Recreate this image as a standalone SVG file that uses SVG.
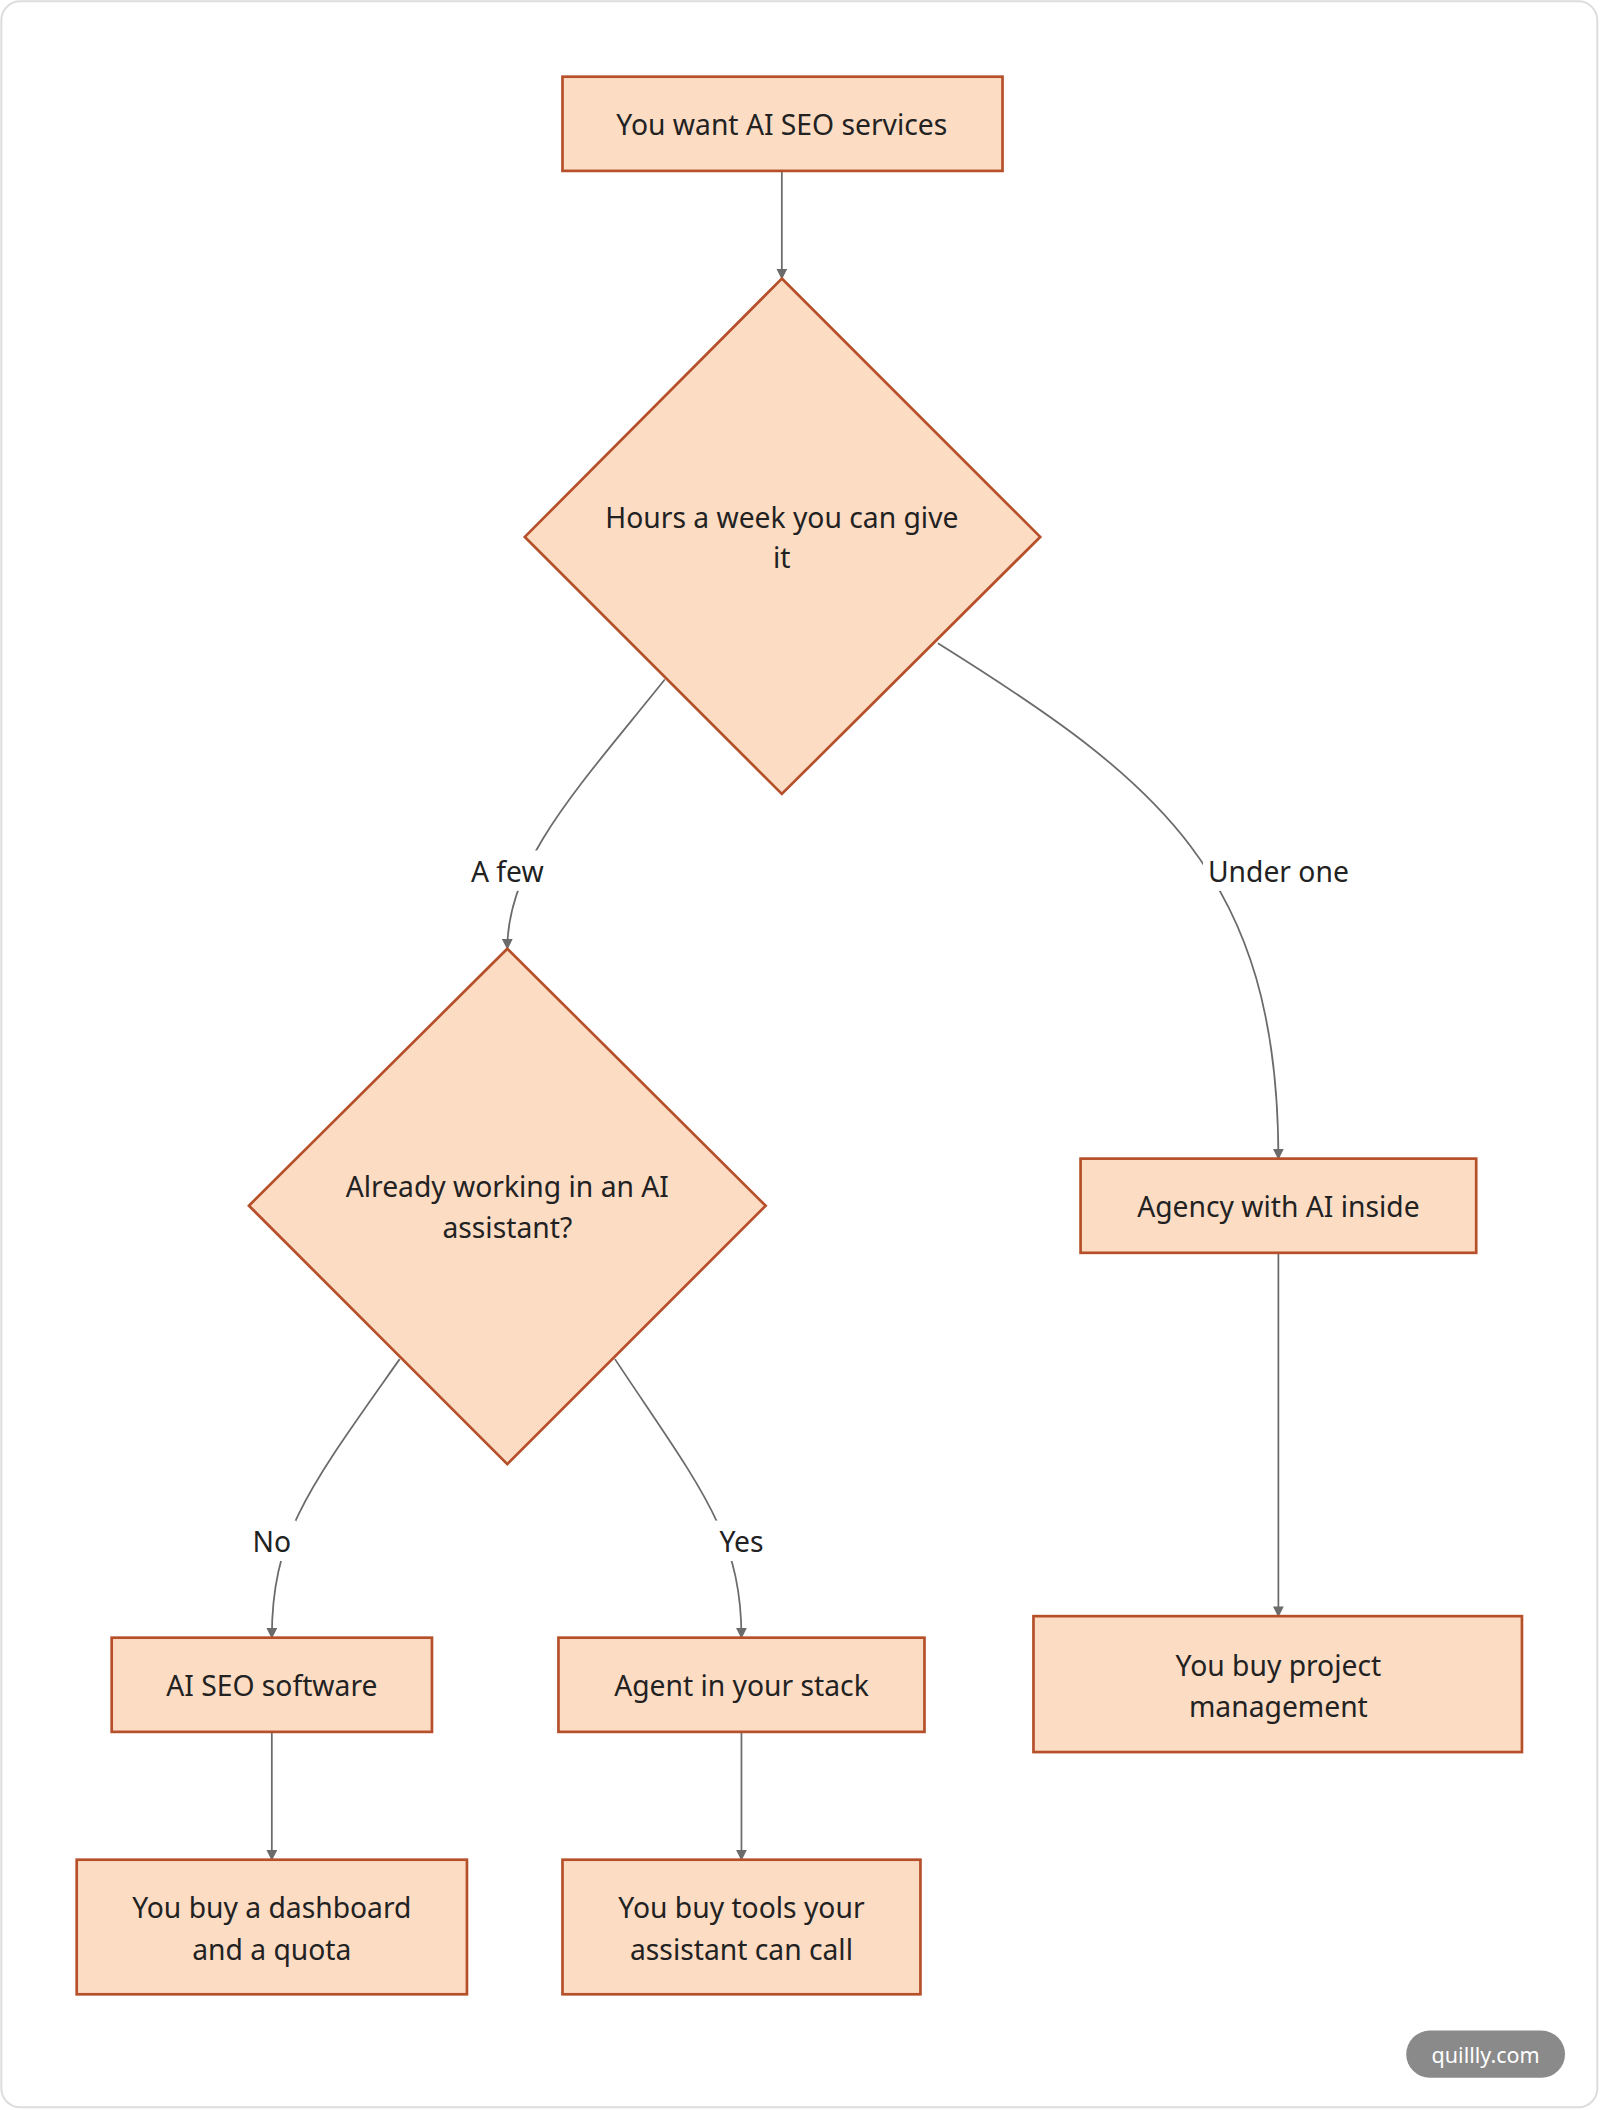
<svg xmlns="http://www.w3.org/2000/svg" width="1600" height="2110" viewBox="0 0 1600 2110">
<defs>
<marker id="ah" viewBox="0 0 10 10" refX="9" refY="5" markerWidth="8" markerHeight="8" orient="auto" markerUnits="userSpaceOnUse"><path d="M0,0 L10,5 L0,10 z" fill="#6b6b6b"/></marker>
<style>
.n{fill:#FDDCC4;stroke:#B5502A;stroke-width:2}
.t{font-family:"Noto Sans","Open Sans",sans-serif;font-size:21px;fill:#222;text-anchor:middle;dominant-baseline:central}
.e{fill:none;stroke:#6b6b6b;stroke-width:1.3;marker-end:url(#ah)}
.lb{fill:#fff}
</style>
</defs>
<rect width="1600" height="2110" fill="#fff"/>
<g transform="scale(1.34567)">
<rect x="1" y="1" width="1186" height="1565" rx="14" fill="#fff" stroke="#ddd" stroke-width="1.5"/>
<g id="connectors">
<path class="e" d="M581,127 L581,207"/>
<path class="e" d="M494,505 C430,585 377,640 377,705"/>
<path class="e" d="M697,478 C860,580 950,650 950,861"/>
<path class="e" d="M950,931 L950,1201"/>
<path class="e" d="M297,1010 C230,1105 202,1140 202,1217"/>
<path class="e" d="M457,1010 C520,1105 551,1140 551,1217"/>
<path class="e" d="M202,1287 L202,1382"/>
<path class="e" d="M551,1287 L551,1382"/>
<rect class="lb" x="345" y="632" width="64" height="30"/><text class="t" x="377" y="647">A few</text>
<rect class="lb" x="894" y="632" width="112" height="30"/><text class="t" x="950" y="647">Under one</text>
<rect class="lb" x="184" y="1130" width="36" height="30"/><text class="t" x="202" y="1145">No</text>
<rect class="lb" x="531" y="1130" width="40" height="30"/><text class="t" x="551" y="1145">Yes</text>
</g>
<g id="n1"><rect class="n" x="418" y="57" width="327" height="70"/><text class="t" x="581" y="92">You want AI SEO services</text></g>
<g id="n2"><polygon class="n" points="581,207 773,399 581,590 390,399"/><text class="t" x="581" y="384">Hours a week you can give</text><text class="t" x="581" y="414">it</text></g>
<g id="n3"><polygon class="n" points="377,705 569,896 377,1088 185,896"/><text class="t" x="377" y="881">Already working in an AI</text><text class="t" x="377" y="912">assistant?</text></g>
<g id="n4"><rect class="n" x="803" y="861" width="294" height="70"/><text class="t" x="950" y="896">Agency with AI inside</text></g>
<g id="n5"><rect class="n" x="768" y="1201" width="363" height="101"/><text class="t" x="950" y="1237">You buy project</text><text class="t" x="950" y="1268">management</text></g>
<g id="n6"><rect class="n" x="83" y="1217" width="238" height="70"/><text class="t" x="202" y="1252">AI SEO software</text></g>
<g id="n7"><rect class="n" x="415" y="1217" width="272" height="70"/><text class="t" x="551" y="1252">Agent in your stack</text></g>
<g id="n8"><rect class="n" x="57" y="1382" width="290" height="100"/><text class="t" x="202" y="1417">You buy a dashboard</text><text class="t" x="202" y="1448">and a quota</text></g>
<g id="n9"><rect class="n" x="418" y="1382" width="266" height="100"/><text class="t" x="551" y="1417">You buy tools your</text><text class="t" x="551" y="1448">assistant can call</text></g>
<g id="wm"><rect x="1045" y="1509" width="118" height="35" rx="17.5" fill="#8a8a8a"/><text x="1104" y="1527" font-family="Noto Sans,sans-serif" font-size="16" fill="#fff" text-anchor="middle" dominant-baseline="central">quillly.com</text></g>
</g>
</svg>
